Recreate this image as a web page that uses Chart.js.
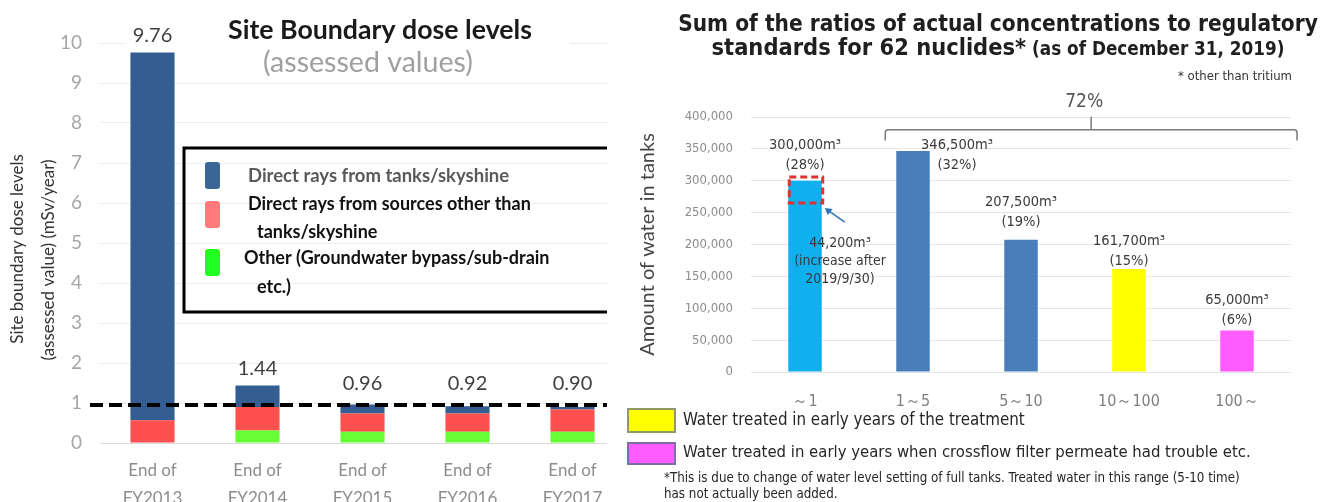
<!DOCTYPE html>
<html>
<head>
<meta charset="utf-8">
<script src="https://cdn.jsdelivr.net/npm/chart.js@4.4.1/dist/chart.umd.min.js"></script>
<style>
  html, body { margin:0; padding:0; background:#fff; overflow:hidden; }
  body { width:1335px; height:502px; position:relative; }
  #doseWrap { position:absolute; left:0; top:0; width:607px; height:502px; overflow:hidden; }
  #doseChart { position:absolute; left:0; top:0; }
  #ratioChart { position:absolute; left:620px; top:0; }
</style>
</head>
<body>
<div id="doseWrap"><canvas id="doseChart" width="625" height="520"></canvas></div>
<canvas id="ratioChart" width="715" height="502"></canvas>
<script>
// ---- left chart: site boundary dose levels (mSv/year)
const doseCategories = [["End of","FY2013"],["End of","FY2014"],["End of","FY2015"],["End of","FY2016"],["End of","FY2017"]];
const doseOther        = [0.00, 0.31, 0.28, 0.28, 0.28];
const doseOtherSources = [0.57, 0.59, 0.46, 0.46, 0.56];
const doseTanks        = [9.19, 0.54, 0.22, 0.18, 0.06];
const doseTotals       = [9.76, 1.44, 0.96, 0.92, 0.90];
const doseTarget = 1;
const doseMax = 10;

// ---- right chart: water in tanks by sum of ratios
const ratioCategories = ["～1", "1～5", "5～10", "10～100", "100～"];
const waterVolumes = [300000, 346500, 207500, 161700, 65000];
const volumeLabels = ["300,000m³", "346,500m³", "207,500m³", "161,700m³", "65,000m³"];
const shareLabels  = ["(28%)", "(32%)", "(19%)", "(15%)", "(6%)"];
const increaseBox  = [265000, 306000];
const increaseText = ["44,200m³", "(increase after", "2019/9/30)"];
const bracketText  = "72%";
const waterMax = 400000;
const waterStep = 50000;

const LATO = "Lato, 'Open Sans', sans-serif";
const NARROW = "'Liberation Sans Narrow', 'DejaVu Sans Condensed', sans-serif";

// draw text shrunk/grown to a target width
function fitText(ctx, text, x, y, width, weight, family, align){
  ctx.font = weight + " 20px " + family;
  const size = 20 * width / ctx.measureText(text).width;
  ctx.font = weight + " " + size.toFixed(2) + "px " + family;
  ctx.textAlign = align || "left";
  ctx.fillText(text, x, y);
  return size;
}

const doseDecor = {
  id: "doseDecor",
  afterDatasetsDraw(chart){
    const {ctx, scales:{x, y}, chartArea} = chart;
    ctx.save();
    // title block (hides the 10 gridline)
    ctx.fillStyle = "#fff";
    ctx.fillRect(124, 36, 446, 14);
    ctx.textBaseline = "middle";
    ctx.fillStyle = "#1a1a1a";
    fitText(ctx, "Site Boundary dose levels", 380, 30, 304, "bold", LATO, "center");
    ctx.fillStyle = "#a0a0a0";
    fitText(ctx, "(assessed values)", 368, 63, 210, "normal", LATO, "center");

    // target line
    const yLine = y.getPixelForValue(doseTarget) + 2;
    ctx.strokeStyle = "#000";
    ctx.lineWidth = 4;
    ctx.setLineDash([13, 6]);
    ctx.beginPath();
    ctx.moveTo(90, yLine);
    ctx.lineTo(chartArea.right, yLine);
    ctx.stroke();
    ctx.setLineDash([]);

    // totals above bars
    ctx.fillStyle = "#404040";
    ctx.font = "20px " + LATO;
    ctx.textAlign = "center";
    ctx.textBaseline = "bottom";
    doseTotals.forEach((v, i) => {
      const top = Math.min(y.getPixelForValue(v), yLine - 4);
      ctx.fillText(v.toFixed(2), x.getPixelForValue(i), top - 7);
    });

    // legend box
    ctx.strokeStyle = "#000";
    ctx.lineWidth = 3;
    ctx.strokeRect(184, 148, 500, 164);
    const sw = [["#3a6597", 162], ["#ff7b7b", 201], ["#22ff22", 249]];
    sw.forEach(([c, top]) => {
      ctx.fillStyle = c;
      ctx.beginPath();
      ctx.roundRect(205, top, 15, 27, 3);
      ctx.fill();
    });
    ctx.textBaseline = "middle";
    ctx.textAlign = "left";
    ctx.font = "bold 18.5px " + LATO;
    ctx.fillStyle = "#595959";
    ctx.fillText("Direct rays from tanks/skyshine", 248, 176);
    ctx.fillStyle = "#111";
    ctx.font = "bold 18px " + LATO;
    ctx.fillText("Direct rays from sources other than", 248, 204);
    ctx.fillText("tanks/skyshine", 257, 232);
    ctx.fillText("Other (Groundwater bypass/sub-drain", 244, 258);
    ctx.fillText("etc.)", 257, 287);

    // y axis title (two lines)
    ctx.fillStyle = "#333";
    ctx.font = "17px " + LATO;
    ctx.textAlign = "center";
    ctx.save(); ctx.translate(18, 249); ctx.rotate(-Math.PI/2);
    ctx.fillText("Site boundary dose levels", 0, 0); ctx.restore();
    ctx.save(); ctx.translate(49, 260); ctx.rotate(-Math.PI/2);
    ctx.fillText("(assessed value) (mSv/year)", 0, 0); ctx.restore();
    ctx.restore();
  }
};

new Chart(document.getElementById("doseChart"), {
  type: "bar",
  data: {
    labels: doseCategories,
    datasets: [
      { label: "Other (Groundwater bypass/sub-drain etc.)", data: doseOther, backgroundColor: "#66ff33" },
      { label: "Direct rays from sources other than tanks/skyshine", data: doseOtherSources, backgroundColor: "#ff5050" },
      { label: "Direct rays from tanks/skyshine", data: doseTanks, backgroundColor: "#345e91" }
    ]
  },
  options: {
    responsive: false, animation: false, devicePixelRatio: 1,
    layout: { padding: { top: 43, left: 0, right: 0, bottom: 0 } },
    datasets: { bar: { categoryPercentage: 1, barPercentage: 0.42, borderWidth: 0 } },
    plugins: { legend: { display: false }, tooltip: { enabled: false }, title: { display: false } },
    scales: {
      x: {
        stacked: true,
        grid: { display: false },
        border: { color: "#d9d9d9", width: 1 },
        ticks: { color: "#8c8c8c", font: { family: LATO, size: 17, lineHeight: 1.65 }, padding: 5, maxRotation: 0, autoSkip: false },
        afterFit(s){ s.height = 77; }
      },
      y: {
        stacked: true, min: 0, max: doseMax,
        grid: { color: "#ececec", drawTicks: false },
        border: { display: false },
        ticks: { stepSize: 1, color: "#a6a6a6", font: { family: LATO, size: 19 }, padding: 18 },
        afterFit(s){ s.width = 100; }
      }
    }
  },
  plugins: [doseDecor]
});

const ratioDecor = {
  id: "ratioDecor",
  afterDatasetsDraw(chart){
    const {ctx, scales:{x, y}, chartArea} = chart;
    const bars = chart.getDatasetMeta(0).data;
    ctx.save();
    ctx.textBaseline = "middle";

    // title
    ctx.fillStyle = "#1f1f1f";
    const s1 = fitText(ctx, "Sum of the ratios of actual concentrations to regulatory", 378, 25, 640, "bold", NARROW, "center");
    ctx.textAlign = "left";
    const a = "standards for 62 nuclides*";
    const b = " (as of December 31, 2019)";
    ctx.font = "bold " + s1 + "px " + NARROW;
    let aw = ctx.measureText(a).width;
    ctx.font = "bold " + (s1 * 0.8) + "px " + NARROW;
    let bw = ctx.measureText(b).width;
    const k = 573 / (aw + bw);
    aw *= k; bw *= k;
    const sx = 378 - (aw + bw) / 2;
    ctx.font = "bold " + (s1 * k) + "px " + NARROW;
    ctx.fillText(a, sx, 49);
    ctx.font = "bold " + (s1 * 0.8 * k) + "px " + NARROW;
    ctx.fillText(b, sx + aw, 50);
    ctx.font = "13px " + NARROW;
    ctx.fillStyle = "#333";
    ctx.textAlign = "right";
    ctx.fillText("* other than tritium", 672, 77);

    // bracket over ratios >= 1
    const bl = bars[1].x - bars[1].width / 2 - 11;
    const br = chartArea.right + 6;
    const by = y.getPixelForValue(380000);
    const bd = y.getPixelForValue(363000);
    const bm = (bl + br) / 2;
    ctx.strokeStyle = "#7a7a7a";
    ctx.lineWidth = 1.5;
    ctx.beginPath();
    ctx.moveTo(bl, bd); ctx.lineTo(bl, by + 3); ctx.quadraticCurveTo(bl, by, bl + 3, by);
    ctx.lineTo(br - 3, by); ctx.quadraticCurveTo(br, by, br, by + 3); ctx.lineTo(br, bd);
    ctx.moveTo(bm, by); ctx.lineTo(bm, by - 13);
    ctx.stroke();
    ctx.fillStyle = "#555";
    ctx.font = "19px " + NARROW;
    ctx.textAlign = "center";
    ctx.fillText(bracketText, bm - 7, 102);

    // value labels
    const dx = [0, 44, 0, 0, 0];
    const dy = [-36, -6, -37, -28, -30];
    ctx.fillStyle = "#3a3a3a";
    ctx.font = "14.5px " + NARROW;
    bars.forEach((bar, i) => {
      ctx.fillText(volumeLabels[i], bar.x + dx[i], bar.y + dy[i]);
      ctx.fillText(shareLabels[i], bar.x + dx[i], bar.y + dy[i] + 20);
    });

    // increase box + arrow + note
    const b0 = bars[0];
    const yt = y.getPixelForValue(increaseBox[1]);
    const yb = y.getPixelForValue(increaseBox[0]);
    ctx.strokeStyle = "#e03030";
    ctx.lineWidth = 3;
    ctx.setLineDash([7, 4]);
    ctx.strokeRect(b0.x - b0.width / 2 + 1, yt, b0.width, yb - yt);
    ctx.setLineDash([]);
    const ax = b0.x + b0.width / 2 + 3, ay = yb + 5;
    ctx.strokeStyle = "#2e75b6";
    ctx.fillStyle = "#2e75b6";
    ctx.lineWidth = 1.5;
    ctx.beginPath(); ctx.moveTo(ax + 20, ay + 14); ctx.lineTo(ax + 3, ay + 2); ctx.stroke();
    ctx.beginPath(); ctx.moveTo(ax, ay); ctx.lineTo(ax + 8, ay + 1); ctx.lineTo(ax + 3, ay + 7); ctx.closePath(); ctx.fill();
    ctx.fillStyle = "#3a3a3a";
    ctx.font = "14px " + NARROW;
    increaseText.forEach((t, k) => ctx.fillText(t, b0.x + 35, 243 + k * 18));

    // legend for the colored bars
    ctx.lineWidth = 2;
    ctx.fillStyle = "#ffff00"; ctx.strokeStyle = "#8e9b5a";
    ctx.fillRect(8, 409, 47, 23); ctx.strokeRect(8, 409, 47, 23);
    ctx.fillStyle = "#ff5cff"; ctx.strokeStyle = "#7f6fa0";
    ctx.fillRect(8, 443, 47, 21); ctx.strokeRect(8, 443, 47, 21);
    ctx.fillStyle = "#262626";
    ctx.textAlign = "left";
    fitText(ctx, "Water treated in early years of the treatment", 63, 421, 342, "normal", NARROW);
    fitText(ctx, "Water treated in early years when crossflow filter permeate had trouble etc.", 63, 453, 568, "normal", NARROW);
    fitText(ctx, "*This is due to change of water level setting of full tanks. Treated water in this range (5-10 time)", 44, 479, 576, "normal", NARROW);
    ctx.fillText("has not actually been added.", 44, 495);
    ctx.restore();
  }
};

new Chart(document.getElementById("ratioChart"), {
  type: "bar",
  data: {
    labels: ratioCategories,
    datasets: [{
      label: "Amount of water in tanks",
      data: waterVolumes,
      backgroundColor: ["#0fb0ee", "#4a7ebb", "#4a7ebb", "#ffff00", "#ff5cff"],
      borderWidth: 0
    }]
  },
  options: {
    responsive: false, animation: false, devicePixelRatio: 1,
    layout: { padding: { top: 117, left: 0, right: 44, bottom: 0 } },
    datasets: { bar: { categoryPercentage: 1, barPercentage: 0.31 } },
    plugins: { legend: { display: false }, tooltip: { enabled: false }, title: { display: false } },
    scales: {
      x: {
        grid: { display: false },
        border: { display: false },
        ticks: { color: "#7f7f7f", font: { family: NARROW, size: 16 }, padding: 12, maxRotation: 0, autoSkip: false },
        afterFit(s){ s.height = 130; }
      },
      y: {
        min: 0, max: waterMax,
        grid: { color: "#e6e6e6", drawTicks: false },
        border: { display: false },
        title: { display: true, text: "Amount of water in tanks", color: "#444", font: { family: LATO, size: 20 }, padding: { top: 16, bottom: 0 } },
        ticks: { stepSize: waterStep, color: "#8c8c8c", font: { family: NARROW, size: 13 }, padding: 18,
                 callback: v => v.toLocaleString("en-US") },
        afterFit(s){ s.width = 131; }
      }
    }
  },
  plugins: [ratioDecor]
});
</script>
</body>
</html>
